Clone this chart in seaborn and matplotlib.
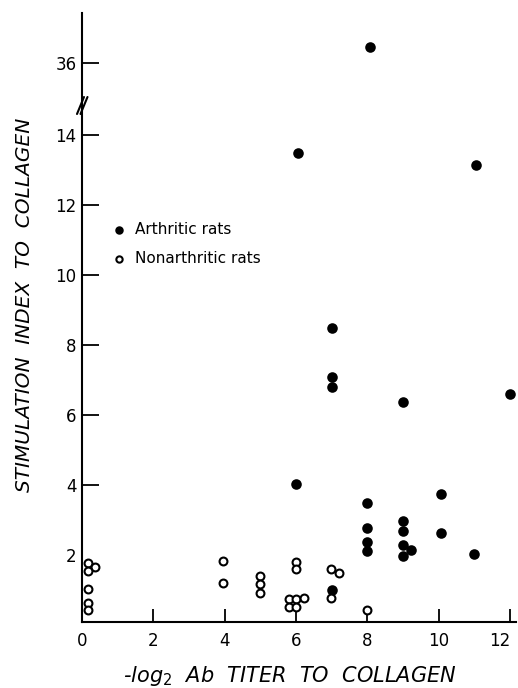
import numpy as np
import pandas as pd
import matplotlib
matplotlib.use('Agg')
import matplotlib.pyplot as plt
import seaborn as sns
from matplotlib.lines import Line2D

# arthritic rats (filled circles)
arth_titer = [8.07, 6.05, 11.05, 7.0, 7.0, 7.0, 9.0, 12.0, 6.0, 10.05, 8.0, 8.0, 8.0, 8.0,
              9.0, 9.0, 9.0, 9.22, 9.0, 10.05, 11.0, 7.0]
arth_index = [36.47, 13.5, 13.14, 8.49, 7.08, 6.81, 6.38, 6.59, 4.03, 3.73, 3.48, 2.76, 2.38, 2.12,
              2.97, 2.68, 2.28, 2.14, 1.97, 2.63, 2.02, 1.0]

# nonarthritic rats (open circles)
non_titer = [0.18, 0.36, 0.18, 0.18, 0.18, 0.18, 3.96, 3.96, 5.0, 5.0, 5.0, 6.0, 6.0,
             5.8, 6.0, 6.22, 5.8, 6.0, 6.97, 7.2, 6.97, 8.0]
non_index = [1.76, 1.65, 1.53, 1.03, 0.62, 0.43, 1.82, 1.19, 1.40, 1.16, 0.92, 1.79, 1.59,
             0.73, 0.73, 0.78, 0.51, 0.51, 1.59, 1.47, 0.78, 0.41]

x_ticks = [0, 2, 4, 6, 8, 10, 12]
y_ticks = [2, 4, 6, 8, 10, 12, 14]
y_ticks_top = [36]

df_arth = pd.DataFrame({'titer': arth_titer, 'index': arth_index})
df_non = pd.DataFrame({'titer': non_titer, 'index': non_index})

sns.set_style('ticks')
plt.rcParams['font.family'] = ['DejaVu Sans']
plt.rcParams['mathtext.default'] = 'it'
plt.rcParams['text.color'] = 'black'
plt.rcParams['xtick.color'] = 'black'
plt.rcParams['ytick.color'] = 'black'
plt.rcParams['xtick.labelcolor'] = 'black'
plt.rcParams['ytick.labelcolor'] = 'black'
plt.rcParams['axes.edgecolor'] = 'black'

W, H = 518, 688
fig = plt.figure(figsize=(W / 100, H / 100), dpi=100)
ax = fig.add_axes([82 / W, 1 - 622 / H, 433.5 / W, 517 / H])
ax_top = fig.add_axes([82 / W, 1 - 105 / H, 433.5 / W, 92 / H], sharex=ax)

for a in (ax, ax_top):
    sns.scatterplot(data=df_arth, x='titer', y='index', ax=a, color='black', edgecolor='black',
                    linewidth=0, s=58, label='Arthritic rats' if a is ax else None)
    sns.scatterplot(data=df_non, x='titer', y='index', ax=a, color='white', edgecolor='black',
                    linewidth=1.5, s=32, label='Nonarthritic rats' if a is ax else None)
    for side in ['top', 'right']:
        a.spines[side].set_visible(False)
    a.spines['left'].set_linewidth(1.5)
    a.set_xlabel('')
    a.set_ylabel('')

ax.spines['bottom'].set_linewidth(1.5)
ax_top.spines['bottom'].set_visible(False)

ax.set_xlim(0, 12.15)
ax.set_ylim(0.08, 14.86)
ax_top.set_ylim(34.8, 37.43)

ax.set_xticks(x_ticks)
ax.set_yticks(y_ticks)
ax_top.set_yticks(y_ticks_top)

ax.tick_params(axis='y', direction='in', length=12, width=1.3, pad=4, labelsize=12)
ax.tick_params(axis='x', direction='in', length=9.5, width=1.3, pad=7, labelsize=12)
ax_top.tick_params(axis='y', direction='in', length=12, width=1.3, pad=4, labelsize=12)
ax_top.tick_params(axis='x', bottom=False, labelbottom=False)
ax.yaxis.get_major_ticks()[0].tick1line.set_visible(False)
ax.get_xticklabels()[-1].set_horizontalalignment('right')
ax.get_xticklabels()[-1].set_x(12.15)

# axis break marks
for off in (0, 3.5):
    fig.add_artist(Line2D([(77 + off) / W, (84 + off) / W], [1 - 114 / H, 1 - 97 / H],
                          color='black', lw=1.5))

ax.legend(loc='upper left', bbox_to_anchor=(111 / W, 1 - 222 / H), bbox_transform=fig.transFigure,
          frameon=False, fontsize=11, borderpad=0, borderaxespad=0, handlelength=1,
          handletextpad=0.55, labelspacing=0.9, markerscale=0.8)

fig.text(25 / W, 1 - 305 / H, 'STIMULATION  INDEX  TO  COLLAGEN', rotation=90, style='italic',
         fontsize=14.5, ha='center', va='center')
fig.text(290 / W, 1 - 676 / H, r'-log$_2$  Ab  TITER  TO  COLLAGEN', style='italic',
         fontsize=15, ha='center', va='center')

fig.savefig('out.png', dpi=100)
